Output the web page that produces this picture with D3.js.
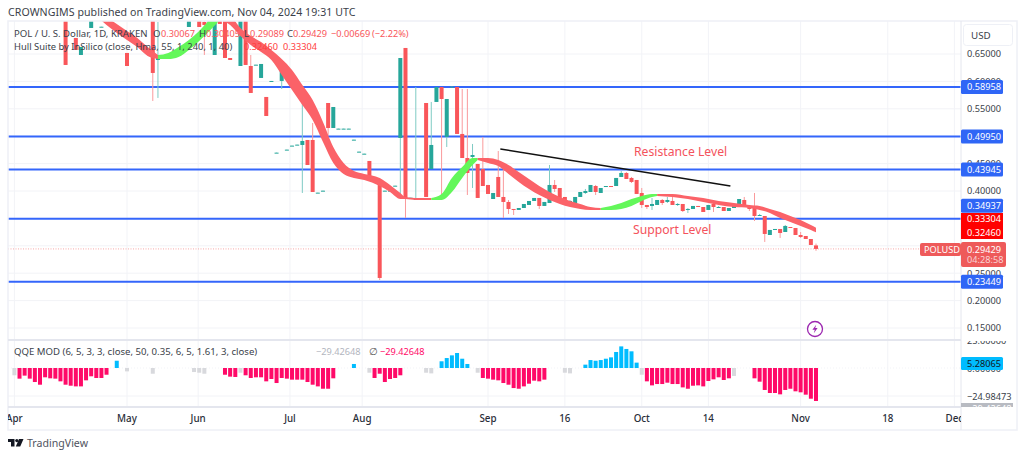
<!DOCTYPE html>
<html><head><meta charset="utf-8">
<script src="https://cdnjs.cloudflare.com/ajax/libs/d3/7.8.5/d3.min.js"></script>
<style>html,body{margin:0;padding:0;background:#fff}svg{display:block}text{font-family:"Noto Sans",sans-serif}</style>
</head><body><svg id="c" width="1024" height="458"></svg>
<script>
const barIndex=[10,12,13,15,17,22,27,28,34,36,37,38,39,40,41,42,44,45,46,47,48,49,50,51,52,53,54,55,56,57,58,59,60,61,62,63,64,65,66,67,68,69,71,72,73,74,75,76,77,78,79,80,81,82,83,84,85,86,87,88,89,90,91,92,93,94,95,96,97,98,99,100,101,102,103,104,105,106,107,108,109,110,111,112,113,114,115,116,117,118,119,120,121,122,123,124,125,126,127,128,129,130,131,132,133,134,135,136,137,138,139,140,141,142,143,144,145,146,147,148,149,150,151,152,153,154,155,156];
const barOpen=[.7212,.6793,.6482,.6975,.6993,.6519,.7212,.6391,.6993,.7212,.7084,.6993,.6482,.7212,.7212,.6427,.6281,.7212,.6281,.6300,.6063,.5716,.6000,.4694,.6008,.4749,.4822,.4840,.4840,.4931,.4931,.3964,.4000,.5606,.5150,.5132,.5132,.5132,.4931,.4712,.4675,.4548,.4146,.4000,.4000,.4091,.4968,.6610,.3873,.3836,.3854,.5606,.4402,.5625,.5898,.4986,.5898,.5898,.5041,.4602,.4621,.4493,.4402,.4110,.3854,.4256,.3891,.3800,.3672,.3654,.3690,.3745,.3818,.3873,.3727,.3781,.4110,.4055,.3891,.3781,.3781,.3891,.3964,.3982,.4091,.3964,.4073,.4091,.4091,.4256,.4329,.4238,.4201,.3964,.3745,.3727,.3745,.3836,.3800,.3818,.3754,.3763,.3654,.3672,.3727,.3708,.3654,.3763,.3690,.3708,.3635,.3690,.3708,.3836,.3708,.3690,.3553,.3544,.3197,.3289,.3307,.3252,.3343,.3325,.3197,.3179,.3124,.30067];
const barHigh=[.7212,.6793,.6628,.7212,.6998,.6519,.7212,.7084,.7212,.7212,.7212,.7212,.7212,.7212,.7212,.6427,.7212,.7212,.6482,.6305,.6318,.5716,.6008,.4700,.6245,.4755,.4828,.4846,.5771,.4931,.5241,.3970,.4006,.5606,.5533,.5138,.5138,.5138,.4937,.4718,.4681,.4548,.4238,.4006,.4006,.4097,.6427,.6610,.3878,.5898,.3860,.5606,.5625,.5898,.5898,.5679,.5904,.5898,.5862,.5862,.4858,.4493,.4986,.4110,.3964,.4730,.4420,.3836,.3672,.3690,.3763,.3818,.3873,.3873,.3800,.4475,.4201,.4055,.3891,.3836,.3891,.3982,.4037,.4110,.4110,.4055,.4091,.4091,.4238,.4365,.4347,.4256,.4201,.4055,.3745,.3873,.3836,.3854,.3891,.3891,.3781,.3763,.3690,.3727,.3727,.3708,.3745,.3763,.3727,.3708,.3690,.3727,.3854,.3891,.3745,.3964,.3581,.3544,.3289,.3307,.3307,.3380,.3343,.3325,.3252,.3179,.3124,.30405];
const barLow=[.6300,.6574,.6482,.6975,.6993,.6281,.5643,.5698,.6993,.6993,.6482,.6993,.6482,.7048,.6427,.6391,.6281,.6300,.5789,.6300,.6063,.5369,.6000,.4694,.5862,.4749,.4822,.4840,.3964,.4475,.3982,.3964,.4000,.5022,.5150,.5132,.5132,.5132,.4931,.4712,.4675,.4256,.2376,.4000,.4000,.4091,.3891,.3508,.3873,.3836,.3854,.3891,.4402,.5625,.3873,.4803,.5898,.5041,.4602,.3927,.4055,.3873,.4091,.3946,.3854,.3891,.3508,.3581,.3562,.3654,.3690,.3745,.3818,.3672,.3727,.3781,.3982,.3836,.3745,.3763,.3781,.3891,.3946,.3982,.3927,.3964,.4073,.4073,.4091,.4256,.4219,.4146,.3946,.3690,.3672,.3654,.3745,.3745,.3781,.3745,.3727,.3617,.3599,.3672,.3708,.3617,.3654,.3617,.3690,.3635,.3635,.3690,.3708,.3708,.3635,.3453,.3544,.3070,.3197,.3289,.3143,.3252,.3325,.3197,.3143,.3124,.3015,.29089];
const barClose=[.6300,.6574,.6628,.7212,.6998,.6281,.6154,.6427,.7212,.6993,.7030,.7212,.7212,.7048,.6427,.6391,.7212,.6300,.5789,.6305,.6318,.5369,.6008,.4700,.6245,.4755,.4828,.4846,.4913,.4475,.3982,.3970,.4006,.5150,.5533,.5138,.5138,.5138,.4937,.4718,.4681,.4256,.2413,.4006,.4006,.4097,.6427,.3873,.3878,.3854,.3860,.3891,.4840,.5898,.5679,.5679,.5904,.5041,.4602,.4329,.4657,.3873,.4091,.3946,.3964,.3891,.3800,.3672,.3654,.3690,.3763,.3818,.3873,.3727,.3800,.4110,.4037,.3873,.3745,.3818,.3891,.3982,.4000,.4110,.3982,.4055,.4091,.4073,.4238,.4329,.4219,.4165,.3946,.3745,.3708,.3763,.3836,.3781,.3836,.3745,.3763,.3635,.3672,.3727,.3708,.3617,.3745,.3708,.3708,.3635,.3690,.3727,.3854,.3708,.3672,.3544,.3562,.3216,.3289,.3307,.3234,.3362,.3325,.3197,.3161,.3124,.3015,.29429];

const hullRedAIdx=[16,18,20,22,24,26,28];
const hullRedATop=[.7340,.7176,.7048,.6920,.6793,.6628,.6482];
const hullRedABot=[.7194,.7030,.6884,.6756,.6628,.6464,.6409];
const hullGreenAIdx=[28,30,32,34,36,38,40];
const hullGreenATop=[.6482,.6519,.6628,.6756,.6920,.7121,.7303];
const hullGreenABot=[.6409,.6409,.6446,.6574,.6738,.6920,.7121];
const hullRedBIdx=[40,42,44,46,48,50,52,54,56,58,60,62,64,66,68,71,73,75,76,78,81];
const hullRedBTop=[.7303,.7212,.6975,.6829,.6720,.6574,.6409,.6209,.5935,.5661,.5260,.4803,.4511,.4365,.4311,.4238,.4110,.3964,.3891,.3873,.3873];
const hullRedBBot=[.7121,.7030,.6829,.6665,.6537,.6391,.6117,.5844,.5570,.5296,.4895,.4511,.4311,.4238,.4201,.4091,.3982,.3854,.3854,.3836,.3836];
const hullGreenBIdx=[81,83,85,87,89,90];
const hullGreenBTop=[.3873,.3946,.4238,.4438,.4602,.4602];
const hullGreenBBot=[.3836,.3836,.3982,.4238,.4475,.4566];
const hullRedCIdx=[90,92,94,96,98,100,102,104,106,108,110,112,114];
const hullRedCTop=[.4602,.4602,.4566,.4475,.4347,.4219,.4091,.3982,.3891,.3818,.3763,.3708,.3690];
const hullRedCBot=[.4566,.4511,.4456,.4311,.4165,.4037,.3927,.3836,.3763,.3708,.3672,.3654,.3654];
const hullGreenCIdx=[114,116,118,120,122,124,125];
const hullGreenCTop=[.3690,.3727,.3781,.3854,.3909,.3946,.3946];
const hullGreenCBot=[.3654,.3654,.3672,.3727,.3818,.3891,.3909];
const hullRedDIdx=[125,128,131,134,137,140,143,145,147,149,151,153,155,156];
const hullRedDTop=[.3946,.3946,.3909,.3873,.3818,.3781,.3745,.3727,.3672,.3617,.3544,.3471,.3380,.33304];
const hullRedDBot=[.3909,.3891,.3854,.3800,.3745,.3708,.3690,.3654,.3599,.3508,.3435,.3362,.3289,.32460];

const levelValues=[.58958,.4995,.43945,.34937,.23449];
const levelLabels=["0.58958","0.49950","0.43945","0.34937","0.23449"];
const levelLabelNudge=[0,0,0,-13,0];
const priceTicks=[.65,.6,.55,.45,.4,.25,.2,.15];
const gridPrices=[.65,.6,.55,.5,.45,.4,.35,.3,.25,.2,.15];
const trendIdx=[94.4,139.3];
const trendPrice=[.4767,.4091];
const lastPrice=.29429;

const tickLabels=["Apr","May","Jun","Jul","Aug","Sep","16","Oct","14","Nov","18","Dec"];
const tickIndex=[0,22,35.8,53.6,67.6,92,107,122,135,153,170,183];

const qqeValues=[-6.5,-9.5,-6.8,-9.5,-12.5,-14.9,-8.3,-9.2,-9.5,-11.9,
-14.9,-15.8,-16.4,-16.4,-11,-7.4,-8.9,-8.9,-6,null,
6.5,null,-3,null,null,null,null,-5.1,null,null,
null,null,null,null,null,-3.6,-4.2,-5.1,null,null,
null,-6,-7.7,-8,-4.2,-6.5,-8.9,-8.3,-8.3,-11.9,
-9.8,-13.4,-8.9,-9.5,-10.4,-10.4,-10.4,-12.5,-14.9,-16.4,
-18.5,-18.5,-9.2,null,null,null,3.6,null,null,-4.2,
-8.9,-5.1,-12.5,-9.8,-8.9,-6.5,null,null,null,null,
-4.2,-4.8,null,6,8.9,11.3,13.4,8.3,3.6,null,
-4.2,-8.9,-9.5,-10.4,-11,-13.4,-14.9,-17.9,-18.5,-16.4,
-14,-11.3,-11.9,-10.4,null,null,null,-4.2,-4.8,null,
null,3,7.1,6.5,7.1,8.3,9.5,14.3,19.3,17,
14.9,4.8,-6,-11.9,-15.5,-14.3,-14.3,-13.1,-14.3,-14.3,
-17.3,-18.5,-15.8,-15.5,-16.4,-11.6,-10.1,-8.3,-10.7,-9.2,
-7.1,null,null,null,-9.2,-12.2,-19.6,-22.3,-22.3,-23.5,
-19.6,-18.5,-20.8,-21.7,-23.8,-27.4,-29.43];
const qqeGray=[0,22,27,35,36,37,44,69,80,81,90,107,108,122,140];

const COL={teal:"#26a69a",red:"#f9565a",hullRed:"#fb6268",hullGreen:"#63f75a",blue:"#3466fb",grid:"#f2f3f7",frame:"#eef0f6",pink:"#ff0a68",cyan:"#00bcff",txt:"#2a2e39"};
const AX=9.2;
const svg=d3.select("#c");
const paneL=8,axisX=961,frameR=1017,paneT=21,paneB=339,qT=341,qB=407,frameB=430;
const x=d3.scaleLinear().domain([0,22,92,156]).range([14.4,127,488,816]);
const y=d3.scaleLinear().domain([.15,.65]).range([328,54]);
const yQ=d3.scaleLinear().domain([-24.98473,25]).range([396,340]);

const defs=svg.append("defs");
defs.append("clipPath").attr("id","pane").append("rect").attr("x",paneL).attr("y",paneT).attr("width",axisX-paneL).attr("height",paneB-paneT);
defs.append("clipPath").attr("id","qpane").append("rect").attr("x",paneL).attr("y",qT).attr("width",axisX-paneL).attr("height",qB-qT);
defs.append("clipPath").attr("id","qaxis").append("rect").attr("x",axisX).attr("y",qT).attr("width",frameR-axisX).attr("height",qB-qT);
defs.append("clipPath").attr("id","taxis").append("rect").attr("x",paneL).attr("y",qB).attr("width",axisX-paneL).attr("height",frameB-qB);

svg.append("text").attr("x",8).attr("y",15.5).attr("font-size",10.6).attr("fill","#3b3f4a").attr("letter-spacing",.06).text("CROWNGIMS published on TradingView.com, Nov 04, 2024 19:31 UTC");

const g=svg.append("g");
g.selectAll(".gv").data(tickIndex).join("line").attr("x1",d=>x(d)).attr("x2",d=>x(d)).attr("y1",paneT).attr("y2",qB).attr("stroke",COL.grid);
const main=svg.append("g").attr("clip-path","url(#pane)");
main.selectAll(".gh").data(gridPrices).join("line").attr("x1",paneL).attr("x2",axisX).attr("y1",d=>y(d)).attr("y2",d=>y(d)).attr("stroke",COL.grid);

main.selectAll(".lv").data(levelValues).join("line").attr("x1",paneL).attr("x2",axisX).attr("y1",d=>y(d)).attr("y2",d=>y(d)).attr("stroke",COL.blue).attr("stroke-width",2);
main.append("line").attr("x1",paneL).attr("x2",axisX).attr("y1",y(lastPrice)).attr("y2",y(lastPrice)).attr("stroke","#f7a9a9").attr("stroke-dasharray","1 1.5");

const bars=barIndex.map((d,k)=>({i:d,o:barOpen[k],h:barHigh[k],l:barLow[k],c:barClose[k]}));
const cg=main.append("g");
cg.selectAll("line").data(bars).join("line").attr("x1",d=>x(d.i)).attr("x2",d=>x(d.i)).attr("y1",d=>y(d.h)).attr("y2",d=>y(d.l))
  .attr("stroke",d=>d.c>=d.o?"#7fcbc4":"#fa9a9c").attr("stroke-width",1);
cg.selectAll("rect").data(bars).join("rect").attr("x",d=>x(d.i)-2).attr("width",4)
  .attr("y",d=>y(Math.max(d.o,d.c))).attr("height",d=>Math.max(1,Math.abs(y(d.o)-y(d.c))))
  .attr("fill",d=>d.c>=d.o?COL.teal:COL.red);

const area=d3.area().x(d=>x(d[0])).y0(d=>y(d[2])).y1(d=>y(d[1])).curve(d3.curveMonotoneX);
[[hullRedAIdx,hullRedATop,hullRedABot,COL.hullRed],[hullGreenAIdx,hullGreenATop,hullGreenABot,COL.hullGreen],
 [hullRedBIdx,hullRedBTop,hullRedBBot,COL.hullRed],[hullGreenBIdx,hullGreenBTop,hullGreenBBot,COL.hullGreen],
 [hullRedCIdx,hullRedCTop,hullRedCBot,COL.hullRed],[hullGreenCIdx,hullGreenCTop,hullGreenCBot,COL.hullGreen],
 [hullRedDIdx,hullRedDTop,hullRedDBot,COL.hullRed]].forEach(([a,t,b,col])=>{
  main.append("path").attr("d",area(a.map((d,k)=>[d,t[k],b[k]]))).attr("fill",col);
});

main.append("line").attr("x1",x(trendIdx[0])).attr("x2",x(trendIdx[1])).attr("y1",y(trendPrice[0])).attr("y2",y(trendPrice[1])).attr("stroke","#111").attr("stroke-width",1.6);

svg.append("text").attr("x",634).attr("y",155.5).attr("font-size",12.2).attr("fill","#f4525c").text("Resistance Level");
svg.append("text").attr("x",633).attr("y",233.5).attr("font-size",12.2).attr("fill","#f4525c").text("Support Level");

const ic=svg.append("g").attr("transform","translate(815,329)");
ic.append("circle").attr("r",7.5).attr("fill","#fff").attr("stroke","#9c27b0").attr("stroke-width",1.3);
ic.append("path").attr("d","M1.2,-4.2L-2.6,0.8L-0.2,0.8L-1.2,4.2L2.6,-0.9L0.2,-0.9Z").attr("fill","#9c27b0");

function txt(px,py,s,col,fs,anchor){return svg.append("text").attr("x",px).attr("y",py).attr("font-size",fs||9.6).attr("fill",col||COL.txt).attr("text-anchor",anchor||"start").text(s);}
const R="#f9565a";
txt(14,37,"POL / U. S. Dollar, 1D, KRAKEN","#3b3f4a");
txt(153,37,"O","#3b3f4a");txt(161,37,"0.30067",R,9.2);
txt(199,37,"H","#3b3f4a");txt(206,37,"0.30405",R,9.2);
txt(244,37,"L","#3b3f4a");txt(250,37,"0.29089",R,9.2);
txt(287,37,"C","#3b3f4a");txt(293,37,"0.29429",R,9.2);
txt(331,37,"−0.00669",R,9.2);txt(372,37,"(−2.22%)",R,9.2);
txt(14,50,"Hull Suite by InSilico (close, Hma, 55, 1, 240, 1, 40)","#3b3f4a",9.4);
txt(244,50,"0.32460","#ff4040",9.2);txt(283,50,"0.33304","#ff4040",9.2);

const qq=svg.append("g").attr("clip-path","url(#qpane)");
qq.selectAll(".gq").data([25,0,-24.98473]).join("line").attr("x1",paneL).attr("x2",axisX).attr("y1",d=>yQ(d)).attr("y2",d=>yQ(d)).attr("stroke",d=>COL.grid).attr("stroke-dasharray",d=>d===0?"1 2":null);
const qd=qqeValues.map((v,i)=>({i,v})).filter(d=>d.v!==null);
qq.selectAll("rect").data(qd).join("rect").attr("x",d=>x(d.i)-2).attr("width",4)
  .attr("y",d=>Math.min(yQ(d.v),yQ(0))).attr("height",d=>Math.abs(yQ(d.v)-yQ(0)))
  .attr("fill",d=>qqeGray.includes(d.i)?"#d8d9dd":(d.v>0?COL.cyan:COL.pink));
txt(14,355,"QQE MOD (6, 5, 3, 3, close, 50, 0.35, 6, 5, 1.61, 3, close)","#3b3f4a");
txt(316,355,"−29.42648","#b2b5be",AX);
txt(369,355,"∅","#555");
txt(380,355,"−29.42648",COL.pink,AX);

const f=svg.append("g").attr("fill","none").attr("stroke",COL.frame);
f.append("rect").attr("x",paneL).attr("y",paneT).attr("width",frameR-paneL).attr("height",frameB-paneT).attr("stroke-width",1.5);
f.append("line").attr("x1",axisX).attr("x2",axisX).attr("y1",paneT).attr("y2",frameB).attr("stroke","#e4e6ee");
f.append("line").attr("x1",paneL).attr("x2",axisX).attr("y1",340).attr("y2",340).attr("stroke","#e4e6ee").attr("stroke-width",2);
f.append("line").attr("x1",paneL).attr("x2",axisX).attr("y1",qB).attr("y2",qB).attr("stroke","#e4e6ee").attr("stroke-width",2);

priceTicks.forEach(p=>txt(967,y(p)+3.3,d3.format(".5f")(p),"#3b3f4a",AX));
svg.append("rect").attr("x",963.5).attr("y",24.5).attr("width",49).attr("height",21).attr("rx",3).attr("fill","#fff").attr("stroke","#eef0f6");
txt(971,38.5,"USD","#3b3f4a",9.8);

function badge(py,s,fill,w,col){
  const h=14;
  svg.append("rect").attr("x",axisX).attr("y",py-h/2).attr("width",w||42).attr("height",h).attr("rx",1.5).attr("fill",fill);
  txt(967,py+3.3,s,col||"#fff",AX);
}
levelValues.forEach((v,k)=>badge(y(v)+levelLabelNudge[k],levelLabels[k],"#2f66f6"));
svg.append("rect").attr("x",axisX).attr("y",213).attr("width",42).attr("height",26).attr("fill","#f00");
txt(967,222.3,"0.33304","#fff",AX);txt(967,236,"0.32460","#fff",AX);
svg.append("rect").attr("x",axisX).attr("y",242).attr("width",45).attr("height",25).attr("rx",2).attr("fill","#ee5a5a");
txt(967,252.8,"0.29429","#fff",AX);txt(967,263.4,"04:28:58","#f9d3d3",AX);
svg.append("rect").attr("x",920).attr("y",243).attr("width",41).attr("height",13).attr("rx",2).attr("fill","#ee5a5a");
txt(924,252.8,"POLUSD","#fff",AX);

const qa=svg.append("g").attr("clip-path","url(#qaxis)");
function qtxt(py,s,col){qa.append("text").attr("x",967).attr("y",py).attr("font-size",AX).attr("fill",col||"#3b3f4a").text(s);}
qtxt(344,"25.00000");qtxt(372,"0.00000");
qa.append("rect").attr("x",axisX).attr("y",357).attr("width",42).attr("height",13).attr("rx",1.5).attr("fill",COL.cyan);
qtxt(366.7,"5.28065","#131722");
qtxt(400.3,"−24.98473");
qa.append("rect").attr("x",axisX).attr("y",403).attr("width",52).attr("height",12).attr("fill","#b8bbc2");
qtxt(411.5,"−29.42648","#fff");

const ta=svg.append("g").attr("clip-path","url(#taxis)");
tickLabels.forEach((s,k)=>ta.append("text").attr("x",x(tickIndex[k])).attr("y",421.5).attr("text-anchor","middle").attr("font-size",9.8).attr("font-weight",500).attr("fill","#2a2e39").text(s));

const b=svg.append("g").attr("transform","translate(8,439)").attr("fill","#131722");
b.append("path").attr("d","M0,0H6.5V7.5H3V3H0Z");
b.append("circle").attr("cx",8.8).attr("cy",1.6).attr("r",1.6);
b.append("path").attr("d","M11,0H15.5L12.2,7.5H7.8Z");
txt(27,447,"TradingView","#50535e",10.6);
</script></body></html>
